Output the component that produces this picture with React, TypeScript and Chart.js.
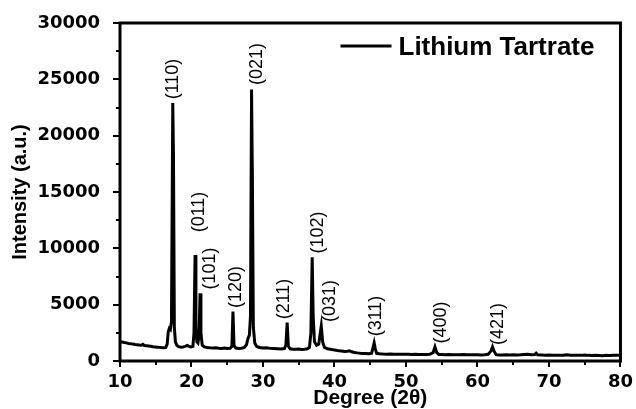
import React, { useEffect, useRef } from 'react';
import { Chart, registerables } from 'chart.js';
Chart.register(...registerables);

// ---- data ----
const seriesLabel = 'Lithium Tartrate';

const twoTheta = [
  10.0, 10.3, 10.6, 10.9, 11.2, 11.5, 11.8, 12.1, 12.4, 12.7, 13.0, 13.2, 13.4, 13.7, 14.0, 14.3, 14.6, 14.9,
  15.2, 15.5, 15.8, 16.1, 16.4, 16.6, 16.75, 16.9, 17.05, 17.2, 17.38, 17.48, 17.6, 17.75, 17.95, 18.2, 18.5,
  18.8, 19.1, 19.4, 19.6, 19.9, 20.2, 20.35, 20.5, 20.62, 20.75, 20.9, 21.05, 21.2, 21.32, 21.5, 21.8, 22.2,
  22.6, 23.0, 23.4, 23.8, 24.2, 24.6, 25.0, 25.4, 25.65, 25.8, 25.95, 26.2, 26.6, 27.0, 27.4, 27.7, 27.9, 28.1,
  28.25, 28.4, 28.52, 28.65, 28.85, 29.1, 29.5, 30.0, 30.5, 31.0, 31.5, 32.0, 32.5, 33.0, 33.2, 33.38, 33.55,
  33.8, 34.2, 34.6, 35.0, 35.4, 35.8, 36.2, 36.5, 36.7, 36.88, 37.02, 37.2, 37.5, 37.8, 37.95, 38.15, 38.35,
  38.6, 39.0, 39.4, 39.8, 40.2, 40.6, 41.0, 41.4, 41.8, 42.1, 42.4, 42.8, 43.2, 43.6, 44.0, 44.4, 44.8, 45.2,
  45.4, 45.55, 45.7, 45.9, 46.3, 46.8, 47.3, 47.8, 48.3, 48.8, 49.3, 49.8, 50.3, 50.8, 51.3, 51.8, 52.3, 52.8,
  53.3, 53.8, 54.05, 54.3, 54.6, 55.0, 55.5, 56.0, 56.5, 57.0, 57.5, 58.0, 58.5, 59.0, 59.5, 60.0, 60.5, 61.0,
  61.5, 61.9, 62.1, 62.3, 62.6, 63.0, 63.5, 64.0, 64.5, 65.0, 65.5, 66.0, 66.5, 67.0, 67.5, 68.0, 68.2, 68.4,
  69.0, 69.5, 70.0, 70.5, 71.0, 71.5, 72.0, 72.5, 73.0, 73.5, 74.0, 74.5, 75.0, 75.5, 76.0, 76.5, 77.0, 77.5,
  78.0, 78.5, 79.0, 79.5, 80.0,
];

const intensity = [
  1720, 1680, 1640, 1610, 1560, 1540, 1500, 1470, 1450, 1420, 1400, 1480, 1380, 1360, 1330, 1300, 1270, 1250,
  1230, 1210, 1190, 1180, 1210, 1500, 2600, 2900, 2800, 3500, 22900, 18300, 3000, 1700, 1400, 1280, 1220,
  1250, 1300, 1380, 1320, 1250, 1300, 2500, 9400, 3000, 1700, 1600, 2200, 6000, 2500, 1400, 1250, 1200,
  1170, 1150, 1180, 1140, 1120, 1150, 1120, 1130, 1300, 4400, 1350, 1150, 1120, 1140, 1200, 1450, 2000, 2300,
  4000, 24100, 16000, 3000, 1600, 1300, 1200, 1150, 1180, 1120, 1100, 1080, 1060, 1100, 1400, 3400, 1300,
  1080, 1050, 1040, 1060, 1020, 1040, 1080, 1200, 2500, 9200, 4000, 1700, 1400, 1500, 2200, 3100, 1700,
  1200, 1080, 1050, 1000, 960, 900, 880, 850, 870, 900, 820, 760, 720, 690, 670, 660, 650, 700,
  1200, 1600, 1100, 680, 640, 620, 610, 620, 600, 610, 590, 600, 590, 580, 590, 580, 570, 580,
  600, 750, 1250, 750, 580, 570, 560, 570, 560, 550, 560, 570, 550, 560, 550, 560, 540, 560,
  600, 900, 1250, 900, 560, 540, 530, 550, 540, 560, 530, 550, 580, 600, 560, 580, 700, 560,
  540, 520, 530, 510, 520, 500, 520, 560, 510, 500, 520, 500, 540, 500, 480, 500, 490, 470,
  500, 490, 520, 500, 520,
];

const peakLabels = ['(110)', '(011)', '(101)', '(120)', '(021)', '(211)', '(102)', '(031)', '(311)', '(400)', '(421)'];
const peakLabelX = [17.39, 21.0, 22.55, 26.18, 29.1, 33.0, 37.75, 39.42, 45.84, 54.9, 62.85];
const peakLabelY = [25030, 13225, 8210, 6568, 26362, 5503, 11406, 5326, 3994, 3417, 3284];

const xMin = 10, xMax = 80, xStep = 10, xMinorStep = 5;
const yMin = 0, yMax = 30000, yStep = 5000, yMinorStep = 2500;

export default function App() {
  const ref = useRef<HTMLCanvasElement>(null);

  useEffect(() => {
    const canvas = ref.current;
    if (!canvas) return;

    const decorations = {
      id: 'decorations',
      afterDraw(chart: any) {
        const { ctx, chartArea: a, scales } = chart;
        const sx = scales.x, sy = scales.y;
        ctx.save();
        ctx.strokeStyle = '#000';
        ctx.fillStyle = '#000';
        // tick marks (outward), major + minor
        ctx.lineWidth = 2;
        ctx.beginPath();
        for (let v = xMin; v <= xMax + 1e-9; v += xMinorStep) {
          const px = Math.round(sx.getPixelForValue(v));
          const len = (v - xMin) % xStep === 0 ? 6 : 4;
          ctx.moveTo(px, a.bottom);
          ctx.lineTo(px, a.bottom + len);
        }
        for (let v = yMin; v <= yMax + 1e-9; v += yMinorStep) {
          const py = Math.round(sy.getPixelForValue(v));
          const len = v % yStep === 0 ? 7 : 4;
          ctx.moveTo(a.left, py);
          ctx.lineTo(a.left - len, py);
        }
        ctx.stroke();
        // frame
        ctx.lineWidth = 3;
        ctx.strokeRect(a.left, a.top, a.right - a.left, a.bottom - a.top);

        // peak labels
        ctx.font = '18px "Liberation Sans", Arial, sans-serif';
        ctx.textAlign = 'center';
        ctx.textBaseline = 'middle';
        peakLabels.forEach((t, i) => {
          const px = sx.getPixelForValue(peakLabelX[i]);
          const py = sy.getPixelForValue(peakLabelY[i]);
          ctx.save();
          ctx.translate(px, py);
          ctx.rotate(-Math.PI / 2);
          ctx.fillText(t, 0, 0);
          ctx.restore();
        });

        // legend
        const label = chart.data.datasets[0].label;
        ctx.font = 'bold 26px "Liberation Sans", Arial, sans-serif';
        ctx.textAlign = 'left';
        ctx.textBaseline = 'alphabetic';
        const w = ctx.measureText(label).width;
        const textRight = a.right - 26;
        const textLeft = textRight - w;
        const ly = a.top + 23;
        ctx.fillText(label, textLeft, ly + 9);
        ctx.lineWidth = 3;
        ctx.beginPath();
        ctx.moveTo(textLeft - 58, ly);
        ctx.lineTo(textLeft - 7, ly);
        ctx.stroke();
        ctx.restore();
      },
    };

    const chart = new Chart(canvas, {
      type: 'line',
      data: {
        datasets: [
          {
            label: seriesLabel,
            data: twoTheta.map((x, i) => ({ x, y: intensity[i] })),
            borderColor: '#000',
            borderWidth: 3,
            pointRadius: 0,
            tension: 0,
            fill: false,
          },
        ],
      },
      options: {
        responsive: false,
        animation: false,
        layout: { padding: { top: 23, right: 14, left: 0, bottom: 0 } },
        plugins: { legend: { display: false }, tooltip: { enabled: false } },
        scales: {
          x: {
            type: 'linear',
            min: xMin,
            max: xMax,
            grid: { display: false },
            border: { display: false },
            ticks: {
              stepSize: xStep,
              color: '#000',
              padding: 3,
              callback: (v: any) => String(v),
              font: { family: 'DejaVu Sans', weight: 'bold', size: 18 },
            },
            title: {
              display: true,
              text: 'Degree (2\u03B8)',
              color: '#000',
              padding: { top: 0, bottom: -2 },
              font: { family: 'Liberation Sans', weight: 'bold', size: 21 },
            },
            afterFit: (s: any) => { s.height = 48; },
          },
          y: {
            type: 'linear',
            min: yMin,
            max: yMax,
            grid: { display: false },
            border: { display: false },
            ticks: {
              stepSize: yStep,
              color: '#000',
              padding: 12,
              callback: (v: any) => String(v),
              font: { family: 'DejaVu Sans', weight: 'bold', size: 18 },
            },
            title: {
              display: true,
              text: 'Intensity (a.u.)',
              color: '#000',
              padding: { top: 8, bottom: 0 },
              font: { family: 'Liberation Sans', weight: 'bold', size: 20 },
            },
            afterFit: (s: any) => { s.width = 120; },
          },
        },
      },
      plugins: [decorations],
    });

    return () => chart.destroy();
  }, []);

  return (
    <div style={{ position: 'absolute', left: 0, top: 0, width: 636, height: 409, background: '#fff' }}>
      <canvas ref={ref} width={636} height={409} />
    </div>
  );
}
